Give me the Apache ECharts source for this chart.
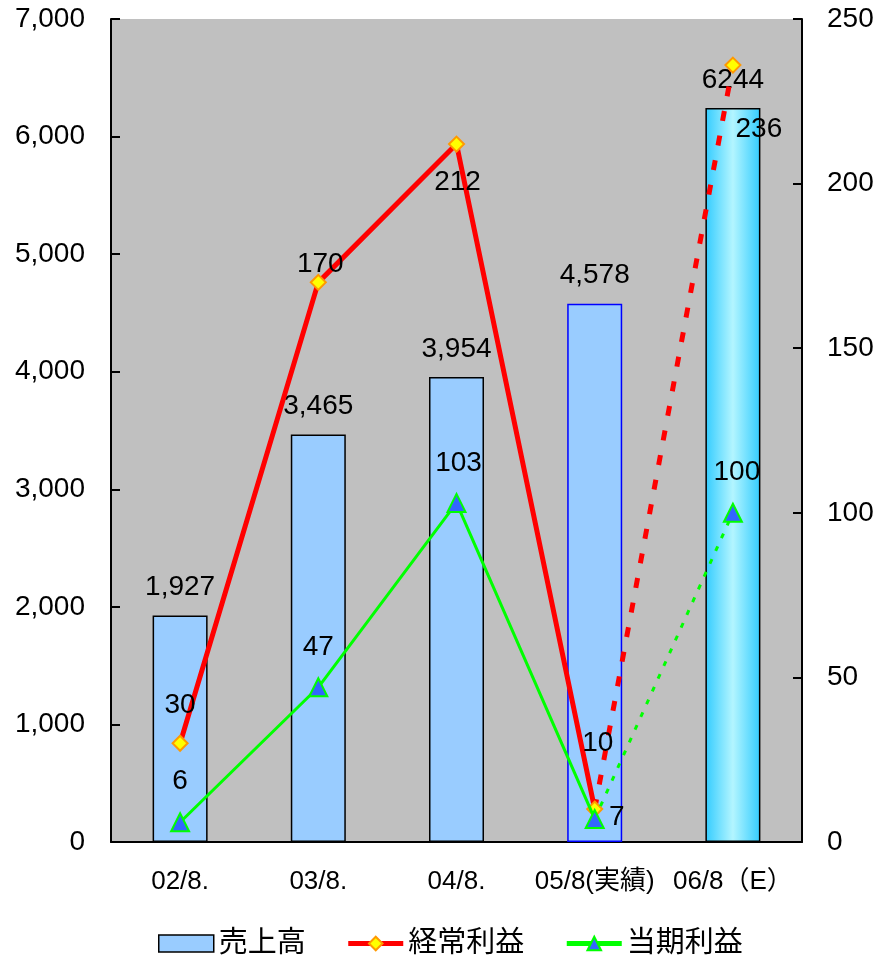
<!DOCTYPE html>
<html>
<head>
<meta charset="utf-8">
<script src="https://cdn.jsdelivr.net/npm/echarts@6/dist/echarts.min.js"></script>
<style>
  html, body { margin: 0; padding: 0; background: #ffffff; }
  #chart { width: 879px; height: 956px; }
</style>
</head>
<body>
<div id="chart"></div>
<script>
// Fiscal periods (the last one is a forecast)
const categories = ['02/8.', '03/8.', '04/8.', '05/8(実績)', '06/8（E）'];
// 売上高 (left axis)
const sales = [1927, 3465, 3954, 4578, 6244];
// 経常利益 (right axis)
const ordinaryProfit = [30, 170, 212, 10, 236];
// 当期利益 (right axis)
const netProfit = [6, 47, 103, 7, 100];

const FONT = "'Liberation Sans', Arial, 'Noto Sans CJK JP', sans-serif";
const NUM_SIZE = 28;
const LAST_ACTUAL = 3; // index of the last actual period

// label offsets relative to each point's centre
const ordinaryOffsets = [[0, -38], [2, -18], [1, 38], [3, -66], [26, 64]];
const netOffsets = [[0, -41], [0, -40], [2, -40], [22, -2], [4, -41]];

function pointLabel(offset) {
  return {
    show: true, position: 'inside', offset: offset,
    color: '#000', fontSize: NUM_SIZE, fontFamily: FONT
  };
}

// split a line into its solid (actual) and broken (forecast) parts
function actualPart(values, offsets) {
  return values.map((v, i) => i <= LAST_ACTUAL
    ? { value: v, label: pointLabel(offsets[i]) } : '-');
}
function forecastPart(values, offsets) {
  return values.map((v, i) => {
    if (i < LAST_ACTUAL) return '-';
    if (i === LAST_ACTUAL) return { value: v, symbol: 'none' };
    return { value: v, label: pointLabel(offsets[i]) };
  });
}

const diamondStyle = { color: '#FFFF00', borderColor: '#FF9900', borderWidth: 2 };
const triangleStyle = { color: '#3366FF', borderColor: '#00FF00', borderWidth: 2 };
const diamond = { symbol: 'diamond', symbolSize: 15, itemStyle: diamondStyle };
const triangle = { symbol: 'triangle', symbolSize: 18, itemStyle: triangleStyle };

const salesData = sales.map((v, i) => {
  const item = { value: v };
  if (i === 3) item.itemStyle = { borderColor: '#0000FF' };
  if (i === 4) item.itemStyle = {
    color: {
      type: 'linear', x: 0, y: 0, x2: 1, y2: 0,
      colorStops: [
        { offset: 0, color: '#33CCFF' },
        { offset: 0.5, color: '#B3F5FF' },
        { offset: 1, color: '#33CCFF' }
      ]
    }
  };
  return item;
});

const chart = echarts.init(document.getElementById('chart'), null, { renderer: 'canvas' });

chart.setOption({
  backgroundColor: '#ffffff',
  animation: false,
  textStyle: { fontFamily: FONT },
  grid: {
    left: 111, right: 77, top: 19, bottom: 114,
    show: true, backgroundColor: '#C0C0C0', borderWidth: 0
  },
  legend: {
    data: [
      { name: '売上高', icon: 'rect', itemStyle: { color: '#99CCFF', borderColor: '#000', borderWidth: 1.5 } },
      { name: '経常利益', lineStyle: { width: 5 } },
      { name: '当期利益', lineStyle: { width: 5 } }
    ],
    left: 153, top: 924,
    itemWidth: 55, itemHeight: 17, itemGap: 40,
    textStyle: { fontSize: 29, color: '#000', fontFamily: FONT }
  },
  xAxis: {
    type: 'category',
    data: categories,
    axisLine: { lineStyle: { color: '#000', width: 2 } },
    axisTick: { inside: true, length: 9, lineStyle: { color: '#000', width: 2 } },
    axisLabel: { color: '#000', fontSize: 26, margin: 27, interval: 0, fontFamily: FONT }
  },
  yAxis: [
    {
      type: 'value', min: 0, max: 7000, interval: 1000,
      axisLine: { show: true, lineStyle: { color: '#000', width: 2 } },
      axisTick: { show: true, inside: true, length: 9, lineStyle: { color: '#000', width: 2 } },
      splitLine: { show: false },
      axisLabel: {
        color: '#000', fontSize: NUM_SIZE, margin: 26, fontFamily: FONT,
        formatter: v => v.toLocaleString('en-US')
      }
    },
    {
      type: 'value', min: 0, max: 250, interval: 50, position: 'right',
      axisLine: { show: true, lineStyle: { color: '#000', width: 2 } },
      axisTick: { show: true, inside: true, length: 9, lineStyle: { color: '#000', width: 2 } },
      splitLine: { show: false },
      axisLabel: { color: '#000', fontSize: NUM_SIZE, margin: 25, fontFamily: FONT }
    }
  ],
  series: [
    {
      name: '売上高',
      type: 'bar',
      barWidth: 55,
      data: salesData,
      itemStyle: { color: '#99CCFF', borderColor: '#000', borderWidth: 1.5 },
      label: {
        show: true, position: 'top', distance: 14,
        color: '#000', fontSize: NUM_SIZE, fontFamily: FONT,
        formatter: p => p.dataIndex === 4 ? String(p.value) : p.value.toLocaleString('en-US')
      },
      z: 2
    },
    Object.assign({
      name: '経常利益',
      type: 'line',
      yAxisIndex: 1,
      data: actualPart(ordinaryProfit, ordinaryOffsets),
      lineStyle: { color: '#FF0000', width: 5 },
      z: 3
    }, diamond),
    Object.assign({
      name: '経常利益予想',
      type: 'line',
      yAxisIndex: 1,
      data: forecastPart(ordinaryProfit, ordinaryOffsets),
      lineStyle: { color: '#FF0000', width: 5, type: [10, 15] },
      z: 3
    }, diamond),
    Object.assign({
      name: '当期利益',
      type: 'line',
      yAxisIndex: 1,
      data: actualPart(netProfit, netOffsets),
      lineStyle: { color: '#00FF00', width: 3 },
      z: 4
    }, triangle),
    Object.assign({
      name: '当期利益予想',
      type: 'line',
      yAxisIndex: 1,
      data: forecastPart(netProfit, netOffsets),
      lineStyle: { color: '#00FF00', width: 3, type: [5, 9] },
      z: 4
    }, triangle)
  ]
});
</script>
</body>
</html>
